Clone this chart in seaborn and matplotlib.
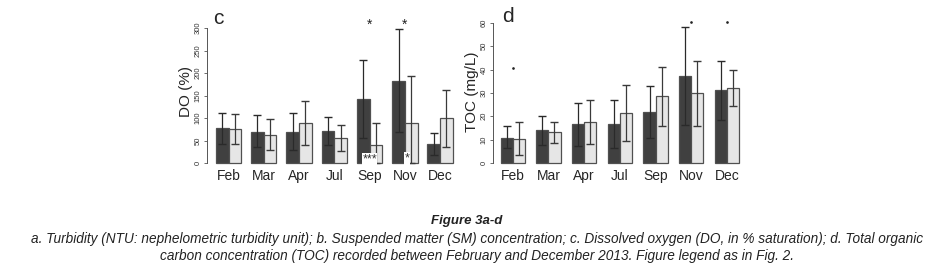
import numpy as np
import pandas as pd
import matplotlib
matplotlib.use("Agg")
import matplotlib.pyplot as plt
import seaborn as sns

# data
months = ['Feb', 'Mar', 'Apr', 'Jul', 'Sep', 'Nov', 'Dec']

do_dark = [78, 70, 69, 72, 142, 182, 42]
do_light = [76, 63, 89, 55, 39, 89, 100]
do_dark_lo = [43, 35, 28, 41, 55, 70, 17]
do_dark_hi = [112, 106, 111, 102, 230, 297, 66]
do_light_lo = [43, 30, 39, 27, 0, 0, 36]
do_light_hi = [109, 97, 137, 84, 89, 193, 163]

toc_dark = [10.7, 14.0, 16.8, 16.8, 21.8, 37.3, 31.2]
toc_light = [10.3, 13.1, 17.5, 21.6, 28.6, 29.9, 32.3]
toc_dark_lo = [6.5, 7.5, 7.3, 6.5, 10.5, 16.1, 18.2]
toc_dark_hi = [15.8, 20.3, 25.8, 27.0, 33.0, 58.3, 43.7]
toc_light_lo = [3.3, 8.5, 8.0, 9.3, 16.0, 16.0, 24.5]
toc_light_hi = [17.7, 17.7, 27.0, 33.6, 41.2, 43.7, 39.7]

# significance marks: (month, y, text)
do_marks_top = [('Sep', 307, '*'), ('Nov', 307, '*')]
toc_marks_top = [('Feb', 40.5, '.'), ('Nov', 60.3, '.'), ('Dec', 60.3, '.')]

caption_title = 'Figure 3a-d'
caption_lines = [
    'a. Turbidity (NTU: nephelometric turbidity unit); b. Suspended matter (SM) concentration; '
    'c. Dissolved oxygen (DO, in % saturation); d. Total organic',
    'carbon concentration (TOC) recorded between February and December 2013. Figure legend as in Fig. 2.',
]

sns.set_style("white")
plt.rcParams['font.family'] = ['Liberation Sans', 'DejaVu Sans']

DARK = '#404040'
LIGHT = '#e6e6e6'
EDGE = '#505050'

fig = plt.figure(figsize=(9.35, 2.71), dpi=100)
W, H = 935, 271


def px_axes(left, right, top, bottom):
    return fig.add_axes([left / W, 1 - bottom / H, (right - left) / W, (bottom - top) / H])


def panel(ax, dark, light, dlo, dhi, llo, lhi, ylim, xlim, yticks, width):
    df = pd.DataFrame({
        'month': months * 2,
        'value': list(dark) + list(light),
        'grp': ['a'] * len(months) + ['b'] * len(months),
    })
    sns.barplot(data=df, x='month', y='value', hue='grp', order=months,
                palette=[DARK, LIGHT], width=width, errorbar=None,
                edgecolor=EDGE, linewidth=0.9, legend=False, ax=ax, gap=0)
    bars = list(ax.patches)[:2 * len(months)]
    xs = [b.get_x() + b.get_width() / 2 for b in bars]
    xd, xl = xs[:len(months)], xs[len(months):]
    d = np.array(dark); l = np.array(light)
    ax.errorbar(xd, d, yerr=[d - np.array(dlo), np.array(dhi) - d], fmt='none',
                ecolor='#2a2a2a', elinewidth=0.9, capsize=3, capthick=1.0)
    ax.errorbar(xl, l, yerr=[l - np.array(llo), np.array(lhi) - l], fmt='none',
                ecolor='#3a3a3a', elinewidth=0.9, capsize=3, capthick=1.0)
    ax.set_ylim(*ylim)
    ax.set_xlim(*xlim)
    ax.set_yticks(yticks)
    ax.set_yticklabels([str(t) for t in yticks], rotation=90, va='center', fontsize=5.5, color='#333333')
    ax.tick_params(axis='y', length=2.5, width=0.6, color='#555555', pad=1.5, left=True)
    ax.tick_params(axis='x', length=0, labelsize=10, pad=3)
    for s in ['top', 'right', 'bottom']:
        ax.spines[s].set_visible(False)
    ax.spines['left'].set_bounds(yticks[0], yticks[-1])
    ax.spines['left'].set_color('#555555')
    ax.spines['left'].set_linewidth(0.7)
    ax.set_xlabel('')
    return xd, xl


ax_c = px_axes(207, 456, 19, 164.8)
xd, xl = panel(ax_c, do_dark, do_light, do_dark_lo, do_dark_hi, do_light_lo, do_light_hi,
               (-4, 320), (-0.61, 6.45), [0, 50, 100, 150, 200, 250, 300], 0.72)
ax_c.set_ylabel('DO (%)', fontsize=11, labelpad=1)
for m, y, t in do_marks_top:
    i = months.index(m)
    ax_c.text(i, y, t, ha='center', va='center', fontsize=10, color='#222222')
i = months.index('Sep')
ax_c.text(i, 8, '***', ha='center', va='center', fontsize=9, color='#333333',
          bbox=dict(facecolor='white', edgecolor='none', pad=0.1))
i = months.index('Nov')
ax_c.text(xl[i] - 0.12, 10, '*', ha='center', va='center', fontsize=9, color='#333333',
          bbox=dict(facecolor='white', edgecolor='none', pad=0.1))
fig.text(213 / W, 1 - 18 / H, 'c', fontsize=15, ha='left', va='center')

ax_d = px_axes(493, 746, 19, 164.6)
panel(ax_d, toc_dark, toc_light, toc_dark_lo, toc_dark_hi, toc_light_lo, toc_light_hi,
      (-0.7, 61.7), (-0.55, 6.53), [0, 10, 20, 30, 40, 50, 60], 0.68)
ax_d.set_ylabel('TOC (mg/L)', fontsize=11, labelpad=1)
for m, y, t in toc_marks_top:
    i = months.index(m)
    ax_d.plot([i], [y], marker='o', markersize=0.9, color='#222222')
fig.text(502 / W, 1 - 16 / H, 'd', fontsize=15, ha='left', va='center')

# caption, shrunk so each line spans the same width as in the reference
fig.text(467 / W, 1 - 221 / H, caption_title, ha='center', va='center',
         fontsize=9.5, fontweight='bold', fontstyle='italic', color='#222222')
t1 = fig.text(477 / W, 1 - 239 / H, caption_lines[0], ha='center', va='center',
              fontsize=9.5, fontstyle='italic', color='#222222')
t2 = fig.text(477 / W, 1 - 256 / H, caption_lines[1], ha='center', va='center',
              fontsize=9.5, fontstyle='italic', color='#222222')
fig.canvas.draw()
r = fig.canvas.get_renderer()
w1 = t1.get_window_extent(r).width
scale = 895 / w1
for t in (t1, t2):
    t.set_fontsize(9.5 * scale)

fig.savefig('out.png', dpi=100)
